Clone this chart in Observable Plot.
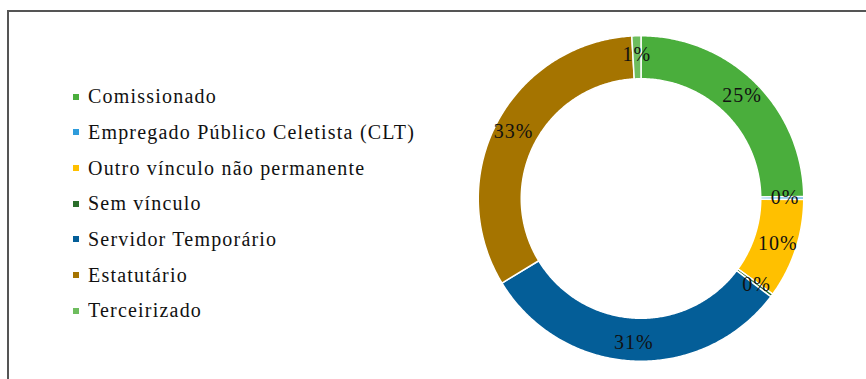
<!DOCTYPE html>
<html><head><meta charset="utf-8">
<script src="https://cdn.jsdelivr.net/npm/d3@7"></script>
<script src="https://cdn.jsdelivr.net/npm/@observablehq/plot@0.6"></script>
<style>
body{margin:0;background:#fff;}
#wrap{position:relative;width:866px;height:379px;overflow:hidden;background:#fff;}
#frame{position:absolute;left:7px;top:10px;right:-10px;bottom:-10px;border-top:2px solid #555;border-left:2px solid #555;}
#chart{position:absolute;left:0;top:0;}
#chart text{letter-spacing:1px;}
#legend{position:absolute;left:73px;top:79px;width:440px;}
#legend .lg-swatches{font-family:"Liberation Serif",serif !important;font-size:20px !important;color:#111 !important;letter-spacing:1.2px;margin:0 !important;}
#legend .lg-swatch{height:35.67px !important;padding:0 !important;margin:0 !important;display:flex !important;align-items:center !important;}
#legend .lg-swatch svg{margin-right:9px !important;}
</style></head>
<body><div id="wrap"><div id="frame"></div><div id="chart"></div><div id="legend"></div></div>
<script>
const categories = ["Comissionado", "Empregado Público Celetista (CLT)", "Outro vínculo não permanente", "Sem vínculo", "Servidor Temporário", "Estatutário", "Terceirizado"];
const values = [24.8, 0.3, 9.9, 0.3, 31.0, 32.8, 0.9];
const labels = ["25%", "0%", "10%", "0%", "31%", "33%", "1%"];
const colors = ["#4aae3c", "#2e9cdc", "#ffc000", "#2a6e2a", "#045e98", "#a57400", "#6ebd5e"];

const cx = 640.5, cy = 198, R = 162;
const rOut = 162.75 / R, rIn = 119.75 / R, rLab = 144 / R;

const arcs = d3.pie().sort(null)(values);
const ringPts = [];
const labelPts = [];
arcs.forEach((a, i) => {
  const n = Math.max(2, Math.ceil((a.endAngle - a.startAngle) / 0.01));
  const poly = [];
  for (let k = 0; k <= n; k++) {
    const t = a.startAngle + (a.endAngle - a.startAngle) * k / n;
    poly.push([rOut * Math.sin(t), rOut * Math.cos(t)]);
  }
  for (let k = n; k >= 0; k--) {
    const t = a.startAngle + (a.endAngle - a.startAngle) * k / n;
    poly.push([rIn * Math.sin(t), rIn * Math.cos(t)]);
  }
  poly.push(poly[0]);
  poly.forEach(([x, y]) => ringPts.push({cat: categories[i], x, y}));
  const m = (a.startAngle + a.endAngle) / 2;
  labelPts.push({label: labels[i], x: rLab * Math.sin(m), y: rLab * Math.cos(m)});
});

const chart = Plot.plot({
  width: 866,
  height: 379,
  margin: 0,
  style: {background: "transparent", overflow: "visible"},
  x: {domain: [-1, 1], range: [cx - R, cx + R], axis: null},
  y: {domain: [-1, 1], range: [cy + R, cy - R], axis: null},
  color: {domain: categories, range: colors},
  marks: [
    Plot.line(ringPts, {x: "x", y: "y", z: "cat", fill: "cat", stroke: "white", strokeWidth: 1.5}),
    Plot.text(labelPts, {x: "x", y: "y", text: "label", fontSize: 20, fontFamily: "Liberation Serif", fill: "#111"})
  ]
});
document.getElementById("chart").appendChild(chart);

const legend = Plot.legend({
  color: {domain: categories, range: colors},
  legend: "swatches",
  columns: 1,
  swatchSize: 6,
  className: "lg"
});
document.getElementById("legend").appendChild(legend);
</script>
</body></html>
